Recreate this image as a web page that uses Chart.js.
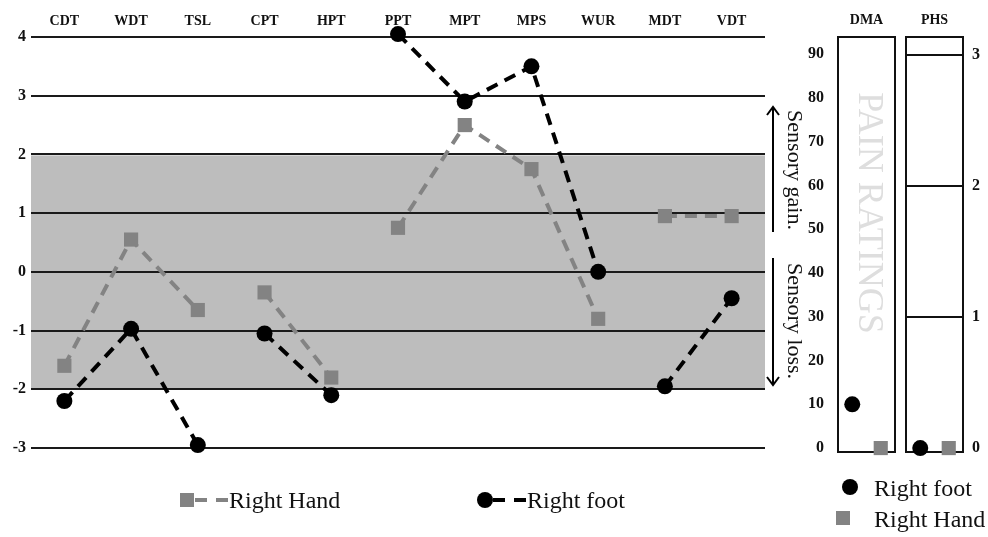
<!DOCTYPE html>
<html>
<head>
<meta charset="utf-8">
<script src="https://cdn.jsdelivr.net/npm/chart.js@4.4.0/dist/chart.umd.min.js"></script>
<style>
  html, body { margin: 0; padding: 0; background: #fff; }
  #wrap { position: relative; width: 988px; height: 537px; }
  #wrap canvas { position: absolute; left: 0; top: 0; }
</style>
</head>
<body>
<div id="wrap">
  <canvas id="mainChart" width="988" height="537"></canvas>
  <canvas id="dmaChart" width="988" height="537"></canvas>
  <canvas id="phsChart" width="988" height="537"></canvas>
</div>
<script>
const Chart = window.Chart;

// QST z-scores per test
const tests = ["CDT", "WDT", "TSL", "CPT", "HPT", "PPT", "MPT", "MPS", "WUR", "MDT", "VDT"];
const rightHand = [-1.6, 0.55, -0.65, -0.35, -1.8, 0.75, 2.5, 1.75, -0.8, 0.95, 0.95];
const rightFoot = [-2.2, -0.97, -2.95, -1.05, -2.1, 4.05, 2.9, 3.5, 0, -1.95, -0.45];
const zTicks = [-3, -2, -1, 0, 1, 2, 3, 4];
const groupEnds = [2, 4, 8]; // no line drawn after these test indices
const normalBand = [-2, 2];

// pain ratings panels
const sides = ["Right foot", "Right Hand"];
const dmaFoot = [10];
const dmaHand = [0];
const phsFoot = [0];
const phsHand = [0];
const dmaTicks = [0, 10, 20, 30, 40, 50, 60, 70, 80, 90];
const phsTicks = [0, 1, 2, 3];

const SERIF = "'Liberation Serif', 'Times New Roman', serif";
const HAND_GREY = "#838383";
const INK = "#111";

const breakSeg = (ctx) => (groupEnds.includes(ctx.p0DataIndex) ? "rgba(0,0,0,0)" : undefined);

function drawArrow(ctx, x, y1, y2) {
  // arrow from y1 to y2, head at y2
  const dir = y2 < y1 ? 1 : -1;
  ctx.beginPath();
  ctx.moveTo(x, y1);
  ctx.lineTo(x, y2);
  ctx.moveTo(x - 6, y2 + dir * 8);
  ctx.lineTo(x, y2);
  ctx.lineTo(x + 6, y2 + dir * 8);
  ctx.stroke();
}

function rotatedText(ctx, text, x, y, font, color) {
  ctx.save();
  ctx.translate(x, y);
  ctx.rotate(Math.PI / 2);
  ctx.font = font;
  ctx.fillStyle = color;
  ctx.textAlign = "center";
  ctx.textBaseline = "middle";
  ctx.fillText(text, 0, 0);
  ctx.restore();
}

function drawMarker(ctx, ds, x, y) {
  ctx.fillStyle = ds.pointBackgroundColor;
  if (ds.pointStyle === "rect") {
    ctx.fillRect(x - 7, y - 7, 14, 14);
  } else {
    ctx.beginPath();
    ctx.arc(x, y, 8, 0, Math.PI * 2);
    ctx.fill();
  }
}

const qstDecor = {
  id: "qstDecor",
  beforeDraw(chart) {
    const { ctx, chartArea, scales } = chart;
    const yTop = scales.y.getPixelForValue(normalBand[1]);
    const yBot = scales.y.getPixelForValue(normalBand[0]);
    ctx.save();
    ctx.fillStyle = "#bdbdbd";
    ctx.fillRect(chartArea.left, yTop + 1, chartArea.right - chartArea.left, yBot - yTop - 1);
    ctx.restore();
  },
  afterDraw(chart) {
    const { ctx } = chart;
    ctx.save();
    ctx.strokeStyle = "#000";
    ctx.lineWidth = 2;
    drawArrow(ctx, 773, 232, 107);
    drawArrow(ctx, 773, 258, 385);
    rotatedText(ctx, "Sensory gain.", 794, 170, "22px " + SERIF, INK);
    rotatedText(ctx, "Sensory loss.", 794, 321, "22px " + SERIF, INK);

    // bottom legend: marker + dashes + label
    const items = [
      { ds: chart.data.datasets[0], x: 187 },
      { ds: chart.data.datasets[1], x: 485 },
    ];
    const ly = 500;
    items.forEach(({ ds, x }) => {
      drawMarker(ctx, ds, x, ly);
      ctx.strokeStyle = ds.borderColor;
      ctx.lineWidth = 4;
      ctx.setLineDash([12, 9]);
      ctx.beginPath();
      ctx.moveTo(x + 8, ly);
      ctx.lineTo(x + 41, ly);
      ctx.stroke();
      ctx.setLineDash([]);
      ctx.font = "24px " + SERIF;
      ctx.fillStyle = INK;
      ctx.textAlign = "left";
      ctx.textBaseline = "alphabetic";
      ctx.fillText(ds.label, x + 42, 508);
    });
    ctx.restore();
  },
};

new Chart(document.getElementById("mainChart"), {
  type: "line",
  data: {
    labels: tests,
    datasets: [
      {
        label: "Right Hand",
        data: rightHand,
        order: 2,
        borderColor: HAND_GREY,
        borderWidth: 4,
        borderDash: [12, 8],
        pointStyle: "rect",
        pointRadius: 10,
        pointBorderWidth: 0,
        pointBackgroundColor: HAND_GREY,
        fill: false,
        tension: 0,
        clip: false,
        segment: { borderColor: breakSeg },
      },
      {
        label: "Right foot",
        data: rightFoot,
        order: 1,
        borderColor: "#000",
        borderWidth: 4,
        borderDash: [12, 8],
        pointStyle: "circle",
        pointRadius: 8,
        pointBorderWidth: 0,
        pointBackgroundColor: "#000",
        fill: false,
        tension: 0,
        clip: false,
        segment: { borderColor: breakSeg },
      },
    ],
  },
  options: {
    responsive: false,
    animation: false,
    events: [],
    layout: { padding: { left: 0, right: 223, top: 0, bottom: 89 } },
    plugins: { legend: { display: false }, tooltip: { enabled: false } },
    scales: {
      x: {
        position: "top",
        offset: true,
        grid: { display: false },
        border: { display: false },
        ticks: { color: INK, padding: -1, font: { family: SERIF, size: 14, weight: "bold" } },
        afterFit: (s) => { s.height = 37; },
      },
      y: {
        min: -3,
        max: 4,
        afterBuildTicks: (s) => { s.ticks = zTicks.map((v) => ({ value: v })); },
        grid: { color: "#1a1a1a", lineWidth: 2, drawTicks: false },
        border: { display: false },
        ticks: { color: INK, padding: 5, font: { family: SERIF, size: 16, weight: "bold" } },
        afterFit: (s) => { s.width = 31; },
      },
    },
  },
  plugins: [qstDecor],
});

function panelBox(title, watermark) {
  return {
    id: "panelBox",
    beforeDatasetsDraw(chart) {
      const { ctx, chartArea: a } = chart;
      ctx.save();
      if (watermark) {
        rotatedText(ctx, watermark, (a.left + a.right) / 2 + 2, 213, "36px " + SERIF, "#dedede");
      }
      ctx.strokeStyle = "#111";
      ctx.lineWidth = 2;
      ctx.strokeRect(a.left, a.top, a.right - a.left, a.bottom - a.top);
      ctx.font = "bold 14px " + SERIF;
      ctx.fillStyle = INK;
      ctx.textAlign = "center";
      ctx.textBaseline = "middle";
      ctx.fillText(title, (a.left + a.right) / 2, 20);
      ctx.restore();
    },
  };
}

const painLegend = {
  id: "painLegend",
  afterDraw(chart) {
    const { ctx } = chart;
    const ds = chart.data.datasets;
    ctx.save();
    ctx.fillStyle = "#000";
    ctx.beginPath();
    ctx.arc(850, 487, 8, 0, Math.PI * 2);
    ctx.fill();
    ctx.fillStyle = HAND_GREY;
    ctx.fillRect(843 - 7, 518 - 7, 14, 14);
    ctx.font = "24px " + SERIF;
    ctx.fillStyle = INK;
    ctx.textAlign = "left";
    ctx.textBaseline = "alphabetic";
    ctx.fillText(ds[0].label, 874, 496);
    ctx.fillText(ds[1].label, 874, 527);
    ctx.restore();
  },
};

function painDatasets(foot, hand) {
  return [
    {
      label: "Right foot",
      data: [foot[0], null],
      pointStyle: "circle",
      pointRadius: 8,
      pointBorderWidth: 0,
      pointBackgroundColor: "#000",
      showLine: false,
      clip: false,
    },
    {
      label: "Right Hand",
      data: [null, hand[0]],
      pointStyle: "rect",
      pointRadius: 10,
      pointBorderWidth: 0,
      pointBackgroundColor: HAND_GREY,
      showLine: false,
      clip: false,
    },
  ];
}

const panelX = {
  offset: true,
  display: false,
};

new Chart(document.getElementById("dmaChart"), {
  type: "line",
  data: { labels: sides, datasets: painDatasets(dmaFoot, dmaHand) },
  options: {
    responsive: false,
    animation: false,
    events: [],
    layout: { padding: { left: 790, right: 93, top: 37, bottom: 85 } },
    plugins: { legend: { display: false }, tooltip: { enabled: false } },
    scales: {
      x: panelX,
      y: {
        min: -0.9,
        max: 93.9,
        afterBuildTicks: (s) => { s.ticks = dmaTicks.map((v) => ({ value: v })); },
        grid: { display: false },
        border: { display: false },
        ticks: { color: INK, padding: 6, font: { family: SERIF, size: 16, weight: "bold" } },
        afterFit: (s) => { s.width = 48; },
      },
    },
  },
  plugins: [panelBox("DMA", "PAIN RATINGS"), painLegend],
});

new Chart(document.getElementById("phsChart"), {
  type: "line",
  data: { labels: sides, datasets: painDatasets(phsFoot, phsHand) },
  options: {
    responsive: false,
    animation: false,
    events: [],
    layout: { padding: { left: 906, right: 0, top: 37, bottom: 85 } },
    plugins: { legend: { display: false }, tooltip: { enabled: false } },
    scales: {
      x: panelX,
      y: {
        position: "right",
        min: -0.03,
        max: 3.137,
        afterBuildTicks: (s) => { s.ticks = phsTicks.map((v) => ({ value: v })); },
        grid: {
          color: (c) => (c.tick && c.tick.value === 0 ? "rgba(0,0,0,0)" : "#111"),
          lineWidth: 2,
          drawTicks: false,
        },
        border: { display: false },
        ticks: { color: INK, padding: 9, font: { family: SERIF, size: 16, weight: "bold" } },
        afterFit: (s) => { s.width = 25; },
      },
    },
  },
  plugins: [panelBox("PHS", null)],
});
</script>
</body>
</html>
